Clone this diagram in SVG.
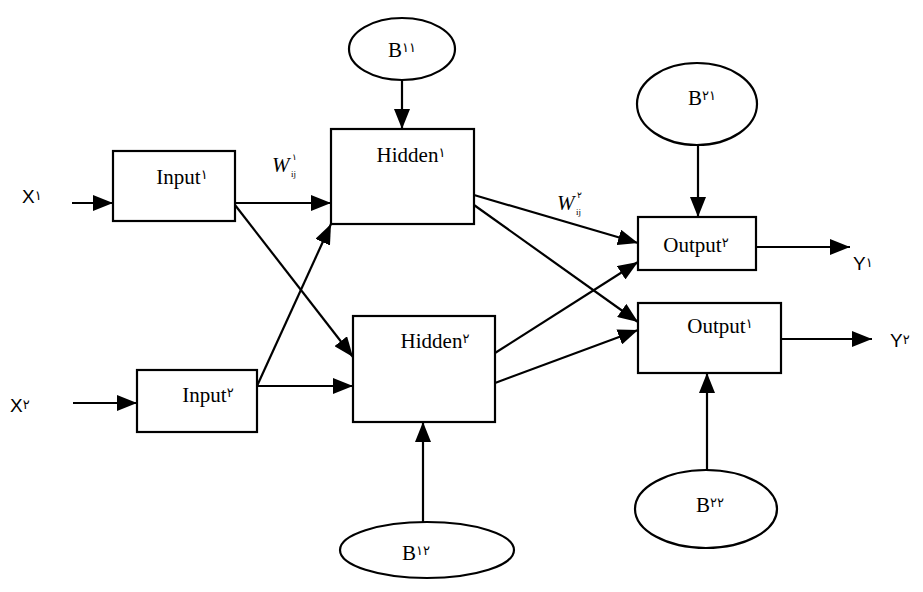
<svg xmlns="http://www.w3.org/2000/svg" width="923" height="592" viewBox="0 0 923 592">
<style>
.box{fill:#fff;stroke:#000;stroke-width:2.2}
.ell{fill:#fff;stroke:#000;stroke-width:2.2}
.lbl{font-family:"Liberation Serif","DejaVu Sans",serif;font-size:21px;fill:#000;text-anchor:middle}
.io{font-family:"Liberation Sans","DejaVu Sans",sans-serif;font-size:19px;fill:#000}
.d{font-family:"DejaVu Sans","Noto Sans",sans-serif;font-size:13px}
.w{font-family:"Liberation Serif","DejaVu Sans",serif;font-style:italic;font-size:21px;fill:#000}
.sm{font-family:"Liberation Serif","DejaVu Sans",serif;font-size:9px;fill:#000}
.c line{stroke:#000;stroke-width:2.2;marker-end:url(#ah)}
</style>
<defs>
<marker id="ah" markerUnits="userSpaceOnUse" markerWidth="20" markerHeight="16" refX="20" refY="8" orient="auto">
<path d="M0,0 L20,8 L0,16 z" fill="#000"/>
</marker>
</defs>
<rect width="923" height="592" fill="#fff"/>
<g class="c" id="connectors">
<line x1="72" y1="203" x2="113" y2="203"/>
<line x1="73" y1="403" x2="137" y2="403"/>
<line x1="235" y1="203" x2="331" y2="203"/>
<line x1="235" y1="205" x2="353" y2="357"/>
<line x1="257" y1="386" x2="331" y2="224"/>
<line x1="257" y1="386" x2="353" y2="386"/>
<line x1="402" y1="80" x2="402" y2="129"/>
<line x1="423" y1="522" x2="423" y2="422"/>
<line x1="474" y1="195" x2="638" y2="243"/>
<line x1="474" y1="205" x2="638" y2="322"/>
<line x1="495" y1="353" x2="638" y2="262"/>
<line x1="495" y1="383" x2="638" y2="330"/>
<line x1="698" y1="145" x2="698" y2="217"/>
<line x1="707" y1="470" x2="707" y2="373"/>
<line x1="756" y1="247" x2="850" y2="247"/>
<line x1="781" y1="339" x2="872" y2="339"/>
</g>
<g id="input1"><rect class="box" x="113" y="151" width="122" height="70"/><text class="lbl" x="182" y="184">Input<tspan class="d" dy="-5">١</tspan></text></g>
<g id="input2"><rect class="box" x="137" y="370" width="120" height="62"/><text class="lbl" x="208" y="402">Input<tspan class="d" dy="-5">٢</tspan></text></g>
<g id="hidden1"><rect class="box" x="331" y="129" width="143" height="95"/><text class="lbl" x="411" y="162">Hidden<tspan class="d" dy="-5">١</tspan></text></g>
<g id="hidden2"><rect class="box" x="353" y="316" width="142" height="106"/><text class="lbl" x="435" y="348">Hidden<tspan class="d" dy="-5">٢</tspan></text></g>
<g id="output2"><rect class="box" x="638" y="217" width="118" height="53"/><text class="lbl" x="696" y="252">Output<tspan class="d" dy="-5">٢</tspan></text></g>
<g id="output1"><rect class="box" x="638" y="303" width="143" height="70"/><text class="lbl" x="720" y="333">Output<tspan class="d" dy="-5">١</tspan></text></g>
<g id="b11"><ellipse class="ell" cx="402" cy="49" rx="53" ry="31"/><text class="lbl" x="402" y="57">B<tspan class="d" dy="-5">١١</tspan></text></g>
<g id="b21"><ellipse class="ell" cx="697" cy="104" rx="60" ry="41"/><text class="lbl" x="702" y="105">B<tspan class="d" dy="-5">٢١</tspan></text></g>
<g id="b12"><ellipse class="ell" cx="427" cy="550" rx="87" ry="28"/><text class="lbl" x="416" y="560">B<tspan class="d" dy="-5">١٢</tspan></text></g>
<g id="b22"><ellipse class="ell" cx="706" cy="509" rx="71" ry="39"/><text class="lbl" x="710" y="512">B<tspan class="d" dy="-5">٢٢</tspan></text></g>
<g id="x1"><text class="io" x="22" y="203">X<tspan class="d" dy="-3">١</tspan></text></g>
<g id="x2"><text class="io" x="10" y="412">X<tspan class="d" dy="-3">٢</tspan></text></g>
<g id="y1"><text class="io" x="853" y="270">Y<tspan class="d" dy="-3">١</tspan></text></g>
<g id="y2"><text class="io" x="890" y="347">Y<tspan class="d" dy="-3">٢</tspan></text></g>
<g id="w1"><text class="w" x="272" y="172">W</text><text class="sm" x="292" y="160">١</text><text class="sm" x="291" y="177">ij</text></g>
<g id="w2"><text class="w" x="557" y="210">W</text><text class="sm" x="577" y="198">٢</text><text class="sm" x="576" y="215">ij</text></g>
</svg>
